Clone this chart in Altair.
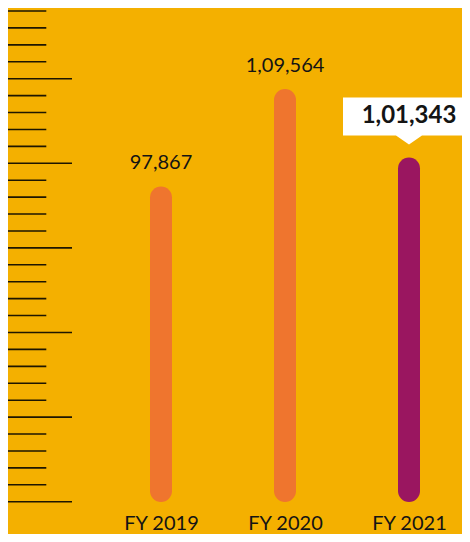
import altair as alt
import pandas as pd

years = ["FY 2019", "FY 2020", "FY 2021"]
values = [97867, 109564, 101343]
labels = ["97,867", "1,09,564", "1,01,343"]
kinds = ["normal", "normal", "highlight"]

ruler_index = list(range(30))
ruler_long = [i % 5 == 4 for i in ruler_index]

BG = "#F4B000"
ORANGE = "#EF752E"
PURPLE = "#9A1660"
INK = "#141414"
BASE = 62596

df = pd.DataFrame({"year": years, "value": values, "label": labels, "kind": kinds})
rdf = pd.DataFrame({"i": ruler_index, "long": ruler_long})

xscale = alt.Scale(type="point", domain=years, range=[153, 401], padding=0)
yscale = alt.Scale(domain=[BASE, 115000], range=[483, 46.8], nice=False, zero=False)

xaxis = alt.Axis(orient="bottom", domain=False, ticks=False, tickSize=0, grid=False,
                 labelPadding=-5, labelBaseline="alphabetic", labelFontSize=20, labelAngle=0,
                 labelFont="Lato", labelColor=INK, title=None)

base = alt.Chart(df).encode(x=alt.X("year:N", scale=xscale, axis=xaxis, sort=years))

bars = base.mark_rule(strokeWidth=22, strokeCap="round").encode(
    y=alt.Y("value:Q", scale=yscale, axis=None),
    y2=alt.datum(BASE),
    color=alt.Color("kind:N", scale=alt.Scale(domain=["normal", "highlight"], range=[ORANGE, PURPLE]), legend=None),
)

normal_labels = base.transform_filter(alt.datum.kind == "normal").mark_text(
    dy=-28, baseline="alphabetic", align="center", fontSize=20, font="Lato", color=INK
).encode(y=alt.Y("value:Q", scale=yscale, axis=None), text="label:N")

callout_path = "M-1,-0.288L1,-0.288L1,0.288L0.197,0.288L0,0.424L-0.197,0.288L-1,0.288Z"
callout = base.transform_filter(alt.datum.kind == "highlight").mark_point(
    shape=callout_path, size=17424, filled=True, color="white", opacity=1, strokeWidth=0, yOffset=-52
).encode(y=alt.Y("value:Q", scale=yscale, axis=None))

bold_label = base.transform_filter(alt.datum.kind == "highlight").mark_text(
    dy=-45, baseline="alphabetic", align="center", fontSize=24, fontWeight="bold", font="Lato", color=INK
).encode(y=alt.Y("value:Q", scale=yscale, axis=None), text="label:N")

rscale = alt.Scale(domain=[0, 29], range=[3, 493.7], nice=False, zero=False)
ruler_short = alt.Chart(rdf).transform_filter(~alt.datum.long).mark_rule(
    color="#1e1600", strokeWidth=1.6
).encode(x=alt.value(0), x2=alt.value(38.3), y=alt.Y("i:Q", scale=rscale, axis=None))
ruler_longs = alt.Chart(rdf).transform_filter(alt.datum.long).mark_rule(
    color="#1e1600", strokeWidth=1.6
).encode(x=alt.value(0), x2=alt.value(64), y=alt.Y("i:Q", scale=rscale, axis=None))

ruler = alt.layer(ruler_short, ruler_longs)
main = alt.layer(bars, normal_labels, callout, bold_label)

chart = alt.layer(ruler, main).resolve_scale(y="independent").properties(
    width=454, height=526, background=BG, padding=0,
    autosize=alt.AutoSizeParams(type="none"),
).configure_view(stroke=None)

chart.save("out.html", embed_options={"renderer": "svg", "actions": False})
